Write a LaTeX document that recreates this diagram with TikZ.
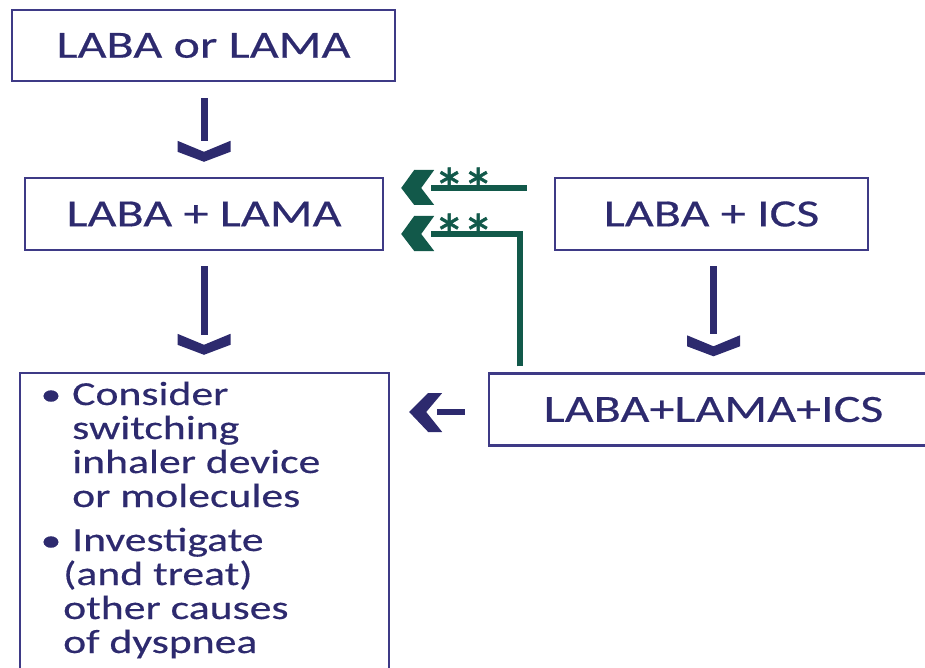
\documentclass[tikz,border=0pt]{standalone}
\usepackage{fontspec}
\setmainfont{Carlito}[FakeStretch=1.3,FakeBold=0.4]
\newfontfamily\starfont{Carlito}[FakeBold=0.8]
\usetikzlibrary{calc}
\definecolor{navy}{HTML}{2D2A6E}
\definecolor{boxline}{HTML}{3E3A86}
\definecolor{dkgreen}{HTML}{12594A}
\begin{document}
\begin{tikzpicture}[x=1pt,y=-1pt,
  box/.style={draw=boxline, line width=2.4pt, text=navy, inner sep=0pt,
    font=\fontsize{38.5}{42}\selectfont},
  bultext/.style={text=navy, inner sep=0pt, anchor=base west,
    font=\fontsize{33.6}{36}\selectfont},
  buldot/.style={text=navy, inner sep=0pt, anchor=base,
    font=\fontsize{31.9}{34}\selectfont},
  stars/.style={text=dkgreen, inner sep=0pt, anchor=base,
    font=\starfont\fontsize{64}{66}\selectfont},
  navyline/.style={draw=navy, line width=7pt},
  bline/.style={draw=navy, line width=6pt},
  gline/.style={draw=dkgreen, line width=6pt},
  downchev/.pic={\fill[navy] (-26.5,-21) -- (0,-10) -- (26.5,-21) -- (26.5,-10) -- (0,0) -- (-26.5,-10) -- cycle;},
  gchev/.pic={\fill[dkgreen] (0,0) -- (13,-18) -- (33,-18) -- (20,0) -- (33,17) -- (13,17) -- cycle;},
  bchev/.pic={\fill[navy] (0,0) -- (19,-19) -- (33,-19) -- (17,0) -- (33,20) -- (19,20) -- cycle;}
]
\clip (0,0) rectangle (925,668);

\node[box, minimum width=383pt, minimum height=71pt] (b1) at (203.5,45.5) {LABA or LAMA};
\node[box, minimum width=358pt, minimum height=72pt] (b2) at (204,214) {LABA + LAMA};
\node[box, minimum width=313pt, minimum height=72pt] (ics) at (711.5,214) {LABA + ICS};
\node[box, minimum width=449pt, minimum height=72pt] (lli) at (713.5,409.5) {LABA+LAMA+ICS};
\node[box, minimum width=369pt, minimum height=330pt] (bl) at (204.5,538) {};

% down arrows
\draw[navyline] ($(b1.south -| b2.north)+(0,16)$) -- ($(b2.north)+(0,-36)$);
\pic at ($(b2.north)+(0,-15)$) {downchev};
\draw[navyline] ($(b2.south)+(0,15)$) -- ($(b2.south |- bl.north)+(0,-37)$);
\pic at ($(b2.south |- bl.north)+(0,-17)$) {downchev};
\draw[navyline] ($(lli.north |- ics.south)+(0,15)$) -- ($(lli.north)+(0,-38)$);
\pic at ($(lli.north)+(0,-16)$) {downchev};

% green connectors
\draw[gline] ($(ics.west)+(-27,-26)$) -- ($(b2.east)+(47,-26)$);
\pic at ($(b2.east)+(17,-26)$) {gchev};
\draw[gline] ($(lli.north)+(-193.5,-6)$) |- ($(b2.east)+(47,20)$);
\pic at ($(b2.east)+(17,20)$) {gchev};
\node[stars] (s1) at ($(b2.east)+(79.5,-1)$) {\smash{*\hspace{-3pt}*}};
\node[stars] (s2) at ($(b2.east)+(79.5,45)$) {\smash{*\hspace{-3pt}*}};

% left arrow
\draw[bline] ($(lli.west)+(-23,2.5)$) -- ($(bl.east |- lli.west)+(47,2.5)$);
\pic at ($(bl.east |- lli.west)+(19,2.5)$) {bchev};

% bullet text
\node[buldot] (d1) at (51,405) {•};
\node[bultext] (t1) at (72,405) {Consider};
\node[bultext] (t2) at (72,439) {switching};
\node[bultext] (t3) at (72,473) {inhaler device};
\node[bultext] (t4) at (72,507) {or molecules};
\node[buldot] (d2) at (51,551) {•};
\node[bultext] (t5) at (72,551) {Investigate};
\node[bultext] (t6) at (63,585) {(and treat)};
\node[bultext] (t7) at (63,619) {other causes};
\node[bultext] (t8) at (63,653) {of dyspnea};
\end{tikzpicture}
\end{document}
